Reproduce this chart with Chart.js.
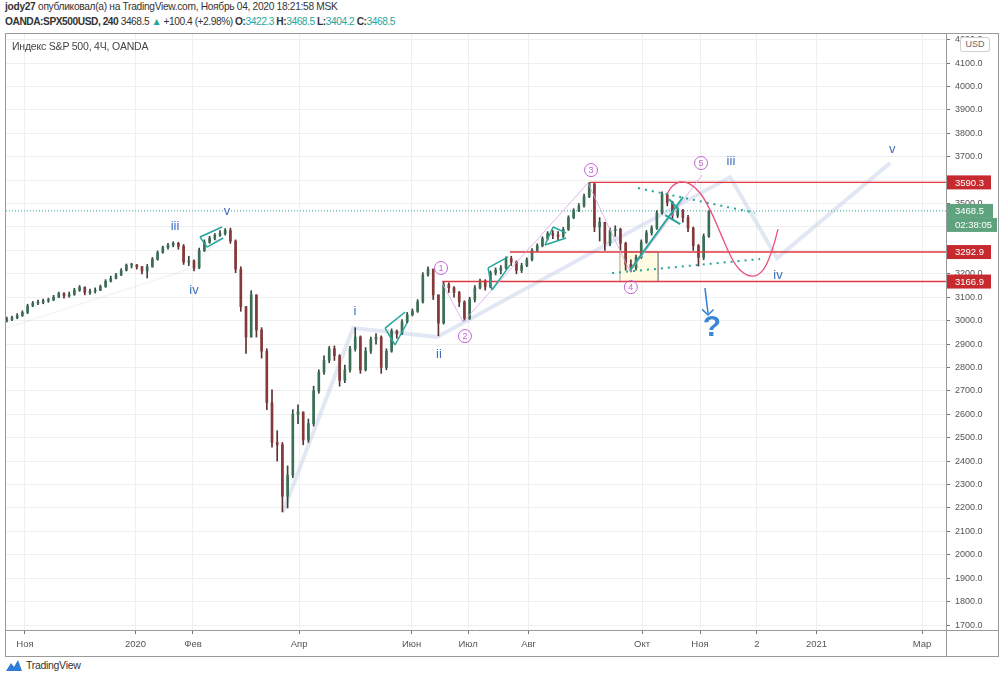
<!DOCTYPE html>
<html><head><meta charset="utf-8">
<script src="https://cdn.jsdelivr.net/npm/chart.js@4.4.0/dist/chart.umd.min.js"></script>
<style>
body{margin:0;background:#fff;width:1000px;height:680px;overflow:hidden;position:relative;font-family:"Liberation Sans",Arial,sans-serif;}
#h1{position:absolute;left:5px;top:1px;font-size:10.2px;letter-spacing:-0.3px;color:#333;white-space:nowrap}
#h2{position:absolute;left:5px;top:16px;font-size:10.2px;letter-spacing:-0.45px;color:#333;white-space:nowrap}
.tv{color:#26a69a}
#frame{position:absolute;left:5px;top:33px;width:992px;height:622px;border:1px solid #9a9a9a;}
#c{position:absolute;left:6px;top:34px;}
#title{position:absolute;left:12px;top:40px;font-size:10.5px;letter-spacing:-0.2px;color:#444;}
#usd{position:absolute;left:960px;top:37px;width:28px;height:13px;border:1px solid #cfcfcf;border-radius:3px;background:#fff;font-size:9px;color:#666;text-align:center;line-height:13px}
.ln{position:absolute;background:#9a9a9a}
#logo{position:absolute;left:5px;top:658px;font-size:10.5px;letter-spacing:-0.3px;color:#333;display:flex;align-items:center;gap:3px}
</style></head>
<body>
<div id="h1"><b>jody27</b> опубликовал(а) на TradingView.com, Ноябрь 04, 2020 18:21:58 MSK</div>
<div id="h2"><b>OANDA:SPX500USD, 240</b> 3468.5 <span class="tv">▲</span> +100.4 (+2.98%) <b>O:</b><span class="tv">3422.3</span> <b>H:</b><span class="tv">3468.5</span> <b>L:</b><span class="tv">3404.2</span> <b>C:</b><span class="tv">3468.5</span></div>
<div id="frame"></div>
<canvas id="c" width="991" height="621"></canvas>
<div id="title">Индекс S&amp;P 500, 4Ч, OANDA</div>
<div id="usd">USD</div>
<div class="ln" style="left:946px;top:630px;width:52px;height:1px"></div>
<div class="ln" style="left:946px;top:630px;width:1px;height:26px"></div>
<div id="logo"><svg width="18" height="14" viewBox="0 0 18 14"><path d="M1 13 L6 5 L9 9 L13 2 L17 13 Z" fill="#2e7dd8"/></svg><span>TradingView</span></div>
<script>
// ---- data (weekday index from 1 Nov 2019, step 2) ----
const firstDay = -7;
const firstOpen = 2998;
const closes = [
3005,3012,3022,3035,3062,3075,3078,3085,3088,3100,
3116,3105,3112,3130,3142,3120,3125,3130,3145,3168,
3180,3195,3215,3237,3238,3230,3212,3230,3262,3290,
3312,3322,3330,3318,3250,3255,3225,3300,3335,3352,
3365,3372,3385,3340,3220,3060,2930,3110,2960,2870,
2650,2480,2470,2250,2340,2600,2610,2490,2560,2700,
2780,2830,2880,2850,2745,2790,2880,2930,2790,2870,
2920,2930,2800,2870,2955,2945,2995,3025,3040,3080,
3195,3220,3110,2990,3155,3140,3120,3080,3010,3090,
3140,3170,3145,3205,3215,3225,3265,3250,3215,3235,
3260,3300,3320,3350,3372,3365,3360,3390,3440,3470,
3490,3530,3585,3400,3420,3330,3385,3390,3330,3240,
3225,3270,3335,3375,3395,3460,3540,3505,3450,3470,
3440,3395,3320,3270,3360,3468.5];
const highs = [
3015,3020,3030,3042,3070,3082,3088,3092,3096,3108,
3122,3120,3122,3138,3150,3145,3135,3140,3152,3175,
3190,3202,3222,3242,3245,3240,3232,3240,3270,3298,
3318,3330,3337,3335,3325,3275,3260,3310,3345,3360,
3372,3385,3393,3395,3345,3230,3060,3128,3110,2970,
2880,2705,2530,2480,2380,2620,2640,2610,2580,2720,
2790,2850,2890,2892,2855,2810,2890,2970,2935,2885,
2930,2945,2935,2880,2965,2960,3005,3035,3050,3090,
3205,3230,3220,3110,3165,3162,3145,3125,3085,3100,
3150,3178,3175,3212,3225,3235,3272,3275,3255,3245,
3268,3308,3328,3358,3380,3385,3380,3398,3448,3478,
3500,3540,3590,3585,3440,3420,3395,3405,3395,3335,
3260,3280,3345,3385,3405,3470,3550,3545,3510,3485,
3475,3450,3400,3325,3370,3470];
const lows = [
2995,3000,3008,3018,3030,3060,3068,3072,3078,3085,
3098,3096,3100,3108,3125,3110,3112,3118,3128,3142,
3165,3178,3192,3212,3225,3220,3200,3182,3228,3258,
3288,3305,3315,3305,3240,3235,3212,3222,3295,3330,
3345,3360,3365,3330,3205,3040,2860,2930,2930,2840,
2620,2460,2400,2183,2200,2330,2560,2470,2480,2550,
2690,2770,2820,2830,2720,2735,2780,2870,2775,2785,
2860,2900,2775,2790,2865,2925,2940,2990,3020,3035,
3075,3190,3090,2935,2985,3120,3100,3060,3000,3005,
3080,3135,3130,3140,3195,3200,3220,3235,3200,3205,
3230,3255,3295,3315,3345,3350,3345,3355,3385,3435,
3465,3485,3525,3380,3340,3300,3320,3360,3300,3215,
3208,3215,3265,3330,3365,3390,3455,3490,3430,3440,
3420,3380,3300,3233,3260,3355];

// axis ticks
const xTickPos  = [0, 42.5, 64.6, 105.4, 148.7, 170.4, 193.7, 237.3, 259.6, 281.5, 304.4, 345];
const xTickText = ['Ноя','2020','Фев','Апр','Июн','Июл','Авг','Окт','Ноя','2','2021','Мар'];
const yTickVals = [1700,1800,1900,2000,2100,2200,2300,2400,2500,2600,2700,2800,2900,3000,3100,3200,3300,3400,3500,3600,3700,3800,3900,4000,4100,4200];

// drawings (weekday index, price)
const waveMain  = [[99.2,2183],[126.2,2968],[158.5,2930],[271.2,3613],[289.2,3267],[332.7,3673]];
const waveFaint = [[-7.3,2968],[64.6,3225],[77.7,3395]];
const pinkWave  = [[160.4,3161],[168.5,2994],[216.5,3588],[232.7,3208],[260.4,3622]];
const levels    = [3590.3, 3292.9, 3166.9];
const levelFrom = [217.3, 186.5, 160.4];
const lastPrice = 3468.5;
const boxDays   = [228.8, 243.5];
const dotUpper  = [[235.8,3566],[280.8,3460]];
const dotLower  = [[225.8,3203],[282.7,3263]];
const trendUp   = [[232.7,3216],[253.1,3528]];
const flagA     = [[246.2,3451],[252.0,3412]];
const flagB     = [[247.7,3519],[251.5,3472]];
const chanV     = [[[67.3,3357],[75.8,3400]],[[70.0,3314],[76.2,3353]],[[67.3,3357],[70.0,3314]]];
const chanMay   = [[[138.5,2968],[146.2,3037]],[[142.3,2896],[146.9,2990]],[[138.5,2968],[142.3,2896]]];
const chanJul   = [[[178.1,3225],[185.8,3272]],[[179.6,3131],[186.5,3237]],[[178.1,3225],[179.6,3131]]];
const triAug    = [[[200.0,3323],[208.1,3353]],[[203.1,3400],[208.1,3375]],[[200.0,3323],[203.1,3400]]];
const sineCurve = [[246.9,3540],[249.0,3575],[251.9,3592],[255.8,3583],[259.6,3545],[263.5,3472],[267.3,3378],[271.2,3280],[275.0,3216],[279.6,3190],[283.8,3216],[287.3,3301],[289.6,3391]];
const arrowShaft = [[261.5,3139],[262.7,3030]];
const arrowHead  = [[260.4,3048],[262.7,3024],[264.8,3048]];
const waveLabels = [['iii',57.7,3404],['iv',65,3131],['v',77.7,3468],['i',126.9,3041],['ii',159.2,2857],['iii',271.5,3682],['iv',289.6,3195],['v',333.5,3733]];
const circleLabels = [['1',160,3225],['2',169.2,2934],['3',217.7,3643],['4',233,3143],['5',260,3673]];
const question = ['?',264.2,2968];

// ---- build ----
const days = closes.map((_, i) => firstDay + 2 * i);
const opens = closes.map((c, i) => i === 0 ? firstOpen : closes[i - 1]);
const isUp = closes.map((c, i) => c >= opens[i]);
const UP = '#3a6f55', DN = '#86393a', WUP = '#33463c', WDN = '#5e3030';

function L(pts, color, width, extra) {
  return Object.assign({
    type: 'line', data: pts.map(p => ({x: p[0], y: p[1]})),
    borderColor: color, borderWidth: width, pointRadius: 0, fill: false,
    tension: 0, order: 0, spanGaps: true
  }, extra || {});
}
const TEAL = '#26a69a';
const ds = [];
ds.push(L(waveFaint, 'rgba(205,212,230,0.22)', 2, {order: 9}));
ds.push(L(waveMain, 'rgba(195,208,232,0.5)', 4, {order: 9}));
// yellow box (fill between two edges)
ds.push(L([[boxDays[0], levels[1]], [boxDays[1], levels[1]]], 'rgba(0,0,0,0)', 0, {order: 8}));
ds.push(L([[boxDays[0], levels[2]], [boxDays[1], levels[2]]], 'rgba(0,0,0,0)', 0, {order: 8, fill: '-1', backgroundColor: 'rgba(255,252,220,0.85)'}));
ds.push(L([[boxDays[0], levels[2]], [boxDays[0], levels[1]], [boxDays[1], levels[1]], [boxDays[1], levels[2]], [boxDays[0], levels[2]]], '#a0a0a0', 1, {order: 7}));
// last price dotted
ds.push(L([[-7.3, lastPrice], [354.2, lastPrice]], TEAL, 1, {order: 6, borderDash: [1, 2]}));
// candles
ds.push({type: 'bar', order: 3, grouped: false, barThickness: 1,
  data: days.map((d, i) => ({x: d, y: [Math.min(lows[i], opens[i], closes[i]), Math.max(highs[i], opens[i], closes[i])]})),
  backgroundColor: isUp.map(u => u ? WUP : WDN)});
ds.push({type: 'bar', order: 2, grouped: false, barThickness: 2, minBarLength: 1,
  data: days.map((d, i) => ({x: d, y: [opens[i], closes[i]]})),
  backgroundColor: isUp.map(u => u ? UP : DN)});
// pink wave count
ds.push(L(pinkWave, 'rgba(222,168,232,0.85)', 1, {order: 1}));
// red levels
levels.forEach((v, i) => ds.push(L([[levelFrom[i], v], [354.2, v]], '#df3a40', 1.4, {order: 1})));
// teal drawings
ds.push(L(dotUpper, TEAL, 2, {borderDash: [2, 5]}));
ds.push(L(dotLower, TEAL, 2, {borderDash: [2, 5]}));
ds.push(L(trendUp, TEAL, 2));
ds.push(L(flagA, TEAL, 2));
ds.push(L(flagB, TEAL, 2));
[chanV, chanMay, chanJul, triAug].forEach(g => g.forEach(seg => ds.push(L(seg, TEAL, 1.5))));
// sine projection
ds.push(L(sineCurve, '#ec4f79', 1.3, {tension: 0.4}));
// arrow
ds.push(L(arrowShaft, '#2f80d8', 1.5));
ds.push(L(arrowHead, '#2f80d8', 1.5));

const FONT = '"Liberation Sans", Arial, sans-serif';
const annot = {
  id: 'annot',
  afterDatasetsDraw(chart) {
    const c = chart.ctx, xs = chart.scales.x, ys = chart.scales.y;
    c.save();
    c.textAlign = 'center'; c.textBaseline = 'middle';
    c.font = '13px ' + FONT;
    c.fillStyle = '#3e6fbd';
    waveLabels.forEach(([t, d, p]) => c.fillText(t, xs.getPixelForValue(d), ys.getPixelForValue(p)));
    circleLabels.forEach(([t, d, p]) => {
      const x = xs.getPixelForValue(d), y = ys.getPixelForValue(p);
      c.strokeStyle = '#c261d6'; c.lineWidth = 1;
      c.beginPath(); c.arc(x, y, 6.5, 0, Math.PI * 2); c.stroke();
      c.fillStyle = '#c261d6'; c.font = '9px ' + FONT;
      c.fillText(t, x, y + 0.5);
    });
    c.font = 'bold 30px ' + FONT;
    c.fillStyle = '#3a87d6';
    c.fillText(question[0], xs.getPixelForValue(question[1]), ys.getPixelForValue(question[2]));
    c.restore();
  },
  afterDraw(chart) {
    const c = chart.ctx, ys = chart.scales.y, x0 = chart.chartArea.right + 1;
    c.save();
    c.font = '9.5px ' + FONT;
    c.textBaseline = 'middle'; c.textAlign = 'left';
    const box = (v, txt, col, w, dy) => {
      const y = ys.getPixelForValue(v) + (dy || 0);
      c.fillStyle = col; c.fillRect(x0, y - 7, w, 14);
      c.fillStyle = '#fff'; c.fillText(txt, x0 + 8, y + 0.5);
    };
    box(levels[0], levels[0].toFixed(1), '#c62a2f', 44);
    box(levels[1], levels[1].toFixed(1), '#c62a2f', 44);
    box(levels[2], levels[2].toFixed(1), '#c62a2f', 44);
    box(lastPrice, lastPrice.toFixed(1), '#5fa27e', 46);
    box(lastPrice, '02:38:05', '#5fa27e', 50, 14);
    c.restore();
  }
};

new Chart(document.getElementById('c'), {
  type: 'bar',
  data: {datasets: ds},
  plugins: [annot],
  options: {
    responsive: false, animation: false, devicePixelRatio: 1,
    layout: {padding: 0},
    plugins: {legend: {display: false}, tooltip: {enabled: false}},
    scales: {
      x: {
        type: 'linear', position: 'bottom', min: -7.3, max: 354.2, offset: false,
        afterBuildTicks: s => { s.ticks = xTickPos.map(v => ({value: v})); },
        afterFit: s => { s.height = 25; s.paddingLeft = 0; s.paddingRight = 0; },
        ticks: {autoSkip: false, maxRotation: 0, minRotation: 0, padding: 5, color: '#555',
          font: {size: 9.5, family: FONT},
          callback: (v, i) => xTickText[i]},
        grid: {color: '#efefef', tickColor: '#777', tickLength: 4, offset: false},
        border: {color: '#9a9a9a'}
      },
      y: {
        type: 'linear', position: 'right', min: 1679, max: 4224,
        afterBuildTicks: s => { s.ticks = yTickVals.map(v => ({value: v})); },
        afterFit: s => { s.width = 51; s.paddingTop = 0; s.paddingBottom = 0; },
        ticks: {padding: 5, color: '#555', font: {size: 9, family: FONT},
          callback: v => Number(v).toFixed(1)},
        grid: {color: '#efefef', tickColor: '#777', tickLength: 4},
        border: {color: '#9a9a9a'}
      }
    }
  }
});
</script>
</body></html>
